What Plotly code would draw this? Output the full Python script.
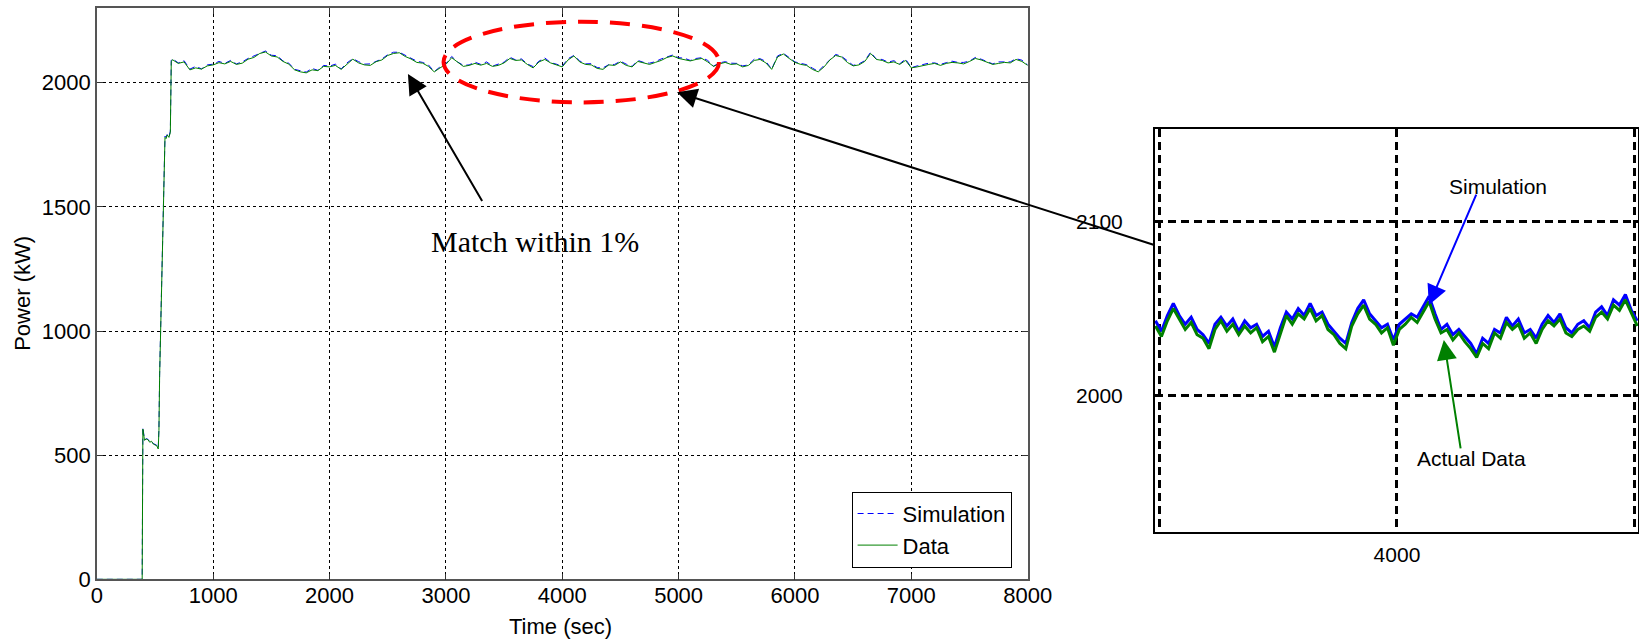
import plotly.graph_objects as go

# ---------------- main chart data ----------------
ramp_t = [0, 390, 396, 402, 410, 425, 440, 455, 470, 485, 500, 515, 528, 534, 540,
          549, 560, 572, 580, 586, 595, 605, 620, 632, 640]
ramp_data = [0, 0, 605, 575, 560, 565, 562, 552, 556, 545, 542, 538, 525, 600, 820,
             1000, 1250, 1500, 1640, 1780, 1775, 1790, 1780, 1800, 2085]
ramp_sim = [0, 0, 612, 580, 562, 566, 564, 554, 557, 547, 544, 540, 528, 610, 830,
            1010, 1260, 1505, 1650, 1785, 1780, 1792, 1783, 1805, 2090]

steady_t = list(range(650, 8001, 50))
steady_data = [
    2093, 2078, 2084, 2052, 2060, 2055, 2068, 2072, 2081, 2076,
    2086, 2074, 2079, 2095, 2102, 2118, 2124, 2108, 2104, 2086,
    2075, 2052, 2044, 2040, 2052, 2049, 2066, 2064, 2070, 2054,
    2076, 2095, 2080, 2072, 2070, 2085, 2092, 2110, 2118, 2121,
    2106, 2096, 2082, 2079, 2066, 2044, 2060, 2074, 2101, 2082,
    2066, 2070, 2078, 2071, 2078, 2066, 2070, 2080, 2098, 2090,
    2092, 2074, 2060, 2084, 2094, 2080, 2071, 2064, 2092, 2108,
    2084, 2074, 2072, 2058, 2054, 2072, 2070, 2084, 2070, 2064,
    2086, 2080, 2074, 2082, 2090, 2102, 2108, 2098, 2094, 2088,
    2094, 2098, 2084, 2066, 2076, 2082, 2074, 2076, 2064, 2070,
    2090, 2094, 2080, 2054, 2104, 2116, 2098, 2082, 2074, 2070,
    2054, 2044, 2064, 2092, 2110, 2104, 2082, 2068, 2072, 2086,
    2118, 2094, 2090, 2080, 2084, 2074, 2090, 2060, 2064, 2070,
    2074, 2078, 2070, 2078, 2082, 2080, 2076, 2086, 2098, 2092,
    2082, 2074, 2078, 2082, 2080, 2094, 2086, 2070]
steady_sim = [
    2097, 2080, 2089, 2055, 2066, 2056, 2072, 2075, 2086, 2078,
    2090, 2076, 2084, 2098, 2108, 2119, 2128, 2111, 2109, 2088,
    2079, 2054, 2049, 2043, 2058, 2050, 2070, 2067, 2075, 2056,
    2080, 2097, 2085, 2075, 2076, 2086, 2096, 2113, 2123, 2123,
    2110, 2098, 2087, 2082, 2072, 2045, 2064, 2077, 2106, 2084,
    2070, 2072, 2083, 2074, 2084, 2067, 2074, 2083, 2103, 2092,
    2096, 2076, 2065, 2087, 2100, 2081, 2075, 2067, 2097, 2110,
    2088, 2076, 2077, 2061, 2060, 2073, 2074, 2087, 2075, 2066,
    2090, 2082, 2079, 2085, 2096, 2103, 2112, 2101, 2099, 2090,
    2098, 2101, 2090, 2067, 2080, 2085, 2079, 2078, 2068, 2072,
    2095, 2097, 2086, 2055, 2108, 2119, 2103, 2084, 2078, 2073,
    2059, 2046, 2070, 2093, 2114, 2107, 2087, 2070, 2076, 2089,
    2123, 2095, 2094, 2083, 2089, 2076, 2096, 2061, 2068, 2073,
    2079, 2080, 2074, 2081, 2087, 2082, 2082, 2087, 2102, 2095,
    2087, 2076, 2084, 2083, 2084, 2097, 2091, 2072]

time_main = ramp_t + steady_t
data_main = ramp_data + steady_data
sim_main = ramp_sim + steady_sim

x_ticks = [0, 1000, 2000, 3000, 4000, 5000, 6000, 7000, 8000]
y_ticks = [0, 500, 1000, 1500, 2000]

# ---------------- inset (zoomed) data ----------------
inset_t = list(range(2985, 5011, 25))
inset_data = [
    2040, 2034, 2043, 2050, 2044, 2038, 2042, 2035, 2033, 2027,
    2038, 2043, 2037, 2041, 2035, 2040, 2036, 2039, 2031, 2034,
    2025, 2036, 2046, 2041, 2047, 2044, 2050, 2043, 2046, 2038,
    2035, 2030, 2027, 2040, 2047, 2052, 2044, 2041, 2036, 2039,
    2029, 2038, 2041, 2045, 2042, 2048, 2054, 2044, 2036, 2038,
    2032, 2036, 2031, 2027, 2022, 2030, 2027, 2036, 2033, 2042,
    2038, 2041, 2033, 2036, 2030, 2038, 2043, 2040, 2044, 2036,
    2034, 2038, 2040, 2037, 2045, 2048, 2044, 2052, 2049, 2055,
    2047, 2040]
inset_sim = [
    2043, 2037, 2046, 2053, 2046, 2041, 2045, 2038, 2035, 2030,
    2041, 2045, 2040, 2044, 2037, 2043, 2039, 2041, 2034, 2037,
    2028, 2039, 2048, 2044, 2050, 2046, 2053, 2046, 2048, 2041,
    2037, 2033, 2030, 2042, 2050, 2055, 2047, 2043, 2039, 2041,
    2032, 2041, 2044, 2047, 2045, 2051, 2057, 2047, 2038, 2041,
    2035, 2038, 2034, 2030, 2024, 2033, 2030, 2038, 2036, 2045,
    2040, 2044, 2036, 2038, 2033, 2041, 2046, 2042, 2047, 2039,
    2036, 2041, 2043, 2039, 2048, 2051, 2046, 2055, 2052, 2058,
    2049, 2043]
inset_x_ticks = [3000, 4000, 5000]
inset_x_labels = ["", "4000", ""]
inset_y_ticks = [2000, 2100]

SANS = "Liberation Sans, Arial, sans-serif"
SERIF = "Liberation Serif, Times New Roman, serif"

fig = go.Figure()
fig.add_trace(go.Scatter(x=time_main, y=sim_main, mode="lines", name="Simulation",
                         line=dict(color="#0000ff", width=1, dash="6px,4px"),
                         xaxis="x", yaxis="y"))
fig.add_trace(go.Scatter(x=time_main, y=data_main, mode="lines", name="Data",
                         line=dict(color="#008000", width=1),
                         xaxis="x", yaxis="y"))
fig.add_trace(go.Scatter(x=inset_t, y=inset_sim, mode="lines", showlegend=False,
                         line=dict(color="#0000ff", width=3),
                         xaxis="x2", yaxis="y2"))
fig.add_trace(go.Scatter(x=inset_t, y=inset_data, mode="lines", showlegend=False,
                         line=dict(color="#008000", width=3),
                         xaxis="x2", yaxis="y2"))

W, H = 1639, 639
axis_common = dict(showgrid=True, gridcolor="#000000", gridwidth=1, griddash="3px,3px",
                   showline=True, linecolor="#555555", linewidth=1.5, mirror="ticks",
                   ticks="inside", ticklen=6, tickcolor="#333333", zeroline=False,
                   tickfont=dict(family=SANS, size=22, color="#000000"))


def label(text, px, py, size=22, family=SANS, angle=0):
    return dict(text=text, xref="paper", yref="paper", x=px / W, y=1 - py / H,
                xanchor="center", yanchor="middle", textangle=angle, showarrow=False,
                font=dict(family=family, size=size, color="#000000"))


fig.update_layout(
    width=W, height=H, autosize=False,
    margin=dict(l=0, r=0, t=0, b=0, pad=0, autoexpand=False),
    paper_bgcolor="white", plot_bgcolor="white",
    xaxis=dict(domain=[96.8 / W, 1027.7 / W], range=[0, 8000], tickvals=x_ticks,
               anchor="y", ticklabelstandoff=-4, automargin=False, **axis_common),
    yaxis=dict(domain=[1 - 579.3 / H, 1 - 8.3 / H], range=[0, 2300], tickvals=y_ticks,
               anchor="x", automargin=False, **axis_common),
    xaxis2=dict(domain=[1155 / W, 1638 / W], range=[2983, 5013], anchor="y2",
                tickvals=inset_x_ticks, ticktext=inset_x_labels,
                showgrid=True, gridcolor="#000000", gridwidth=2.5, griddash="8px,5px",
                showline=True, linecolor="#000000", linewidth=2, mirror=True,
                ticks="", zeroline=False, ticklabelstandoff=3, automargin=False,
                tickfont=dict(family=SANS, size=21, color="#000000")),
    yaxis2=dict(domain=[1 - 531.7 / H, 1 - 129 / H], range=[1922, 2153], anchor="x2",
                tickvals=inset_y_ticks,
                showgrid=True, gridcolor="#000000", gridwidth=2.5, griddash="8px,5px",
                showline=True, linecolor="#000000", linewidth=2, mirror=True,
                ticks="", zeroline=False, ticklabelstandoff=26, automargin=False,
                tickfont=dict(family=SANS, size=21, color="#000000")),
    legend=dict(x=851.6 / W, y=1 - 491.7 / H, xanchor="left", yanchor="top",
                bgcolor="white", bordercolor="#000000", borderwidth=1,
                font=dict(family=SANS, size=22, color="#000000"), itemwidth=40),
    shapes=[dict(type="circle", xref="x", yref="y", x0=2980, x1=5347, y0=1921, y1=2246,
                 line=dict(color="#ff0000", width=4, dash="20px,12px"))],
    annotations=[
        label("Power (kW)", 23, 293.8, angle=-90),
        label("Time (sec)", 560, 626),
        label("Match within 1%", 535, 241, size=30, family=SERIF),
        dict(text="", xref="x", yref="y", x=2674, y=2035, axref="x", ayref="y",
             ax=3319, ay=1518, showarrow=True, arrowhead=2, arrowsize=2,
             arrowwidth=2, arrowcolor="#000"),
        dict(text="", xref="x", yref="y", x=4986, y=1962, ax=478, ay=153,
             showarrow=True, arrowhead=2, arrowsize=2, arrowwidth=2, arrowcolor="#000"),
        label("Simulation", 1497.5, 186, size=21),
        dict(text="", xref="x2", yref="y2", x=4134, y=2052, ax=48, ay=-112,
             showarrow=True, arrowhead=2, arrowsize=2, arrowwidth=2, arrowcolor="#0000ff"),
        label("Actual Data", 1471, 458, size=21),
        dict(text="", xref="x2", yref="y2", x=4197, y=2032, ax=17, ay=110,
             showarrow=True, arrowhead=2, arrowsize=2, arrowwidth=2, arrowcolor="#008000"),
    ],
)

fig.write_html("out.html", config={"displayModeBar": False})
